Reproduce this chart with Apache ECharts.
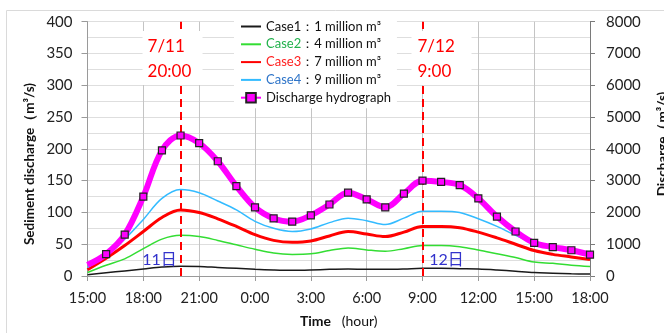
<!DOCTYPE html>
<html>
<head>
<meta charset="utf-8">
<script src="https://cdn.jsdelivr.net/npm/echarts@6/dist/echarts.min.js"></script>
<style>
  html, body { margin: 0; padding: 0; background: #fff; }
  #chart { width: 664px; height: 333px; }
</style>
</head>
<body>
<div id="chart"></div>
<script>
// Hourly time steps, 15:00 on the 11th through 18:00 on the 12th
const hours = ['15:00','16:00','17:00','18:00','19:00','20:00','21:00','22:00','23:00',
  '0:00','1:00','2:00','3:00','4:00','5:00','6:00','7:00','8:00','9:00','10:00','11:00',
  '12:00','13:00','14:00','15:00','16:00','17:00','18:00'];

// Sediment discharge (m3/s) for each landslide-volume case
const case1 = [2, 5, 8, 11, 14, 15.5, 15, 13.5, 12, 10.5, 9.5, 9, 9.5, 10.5, 11, 10.5, 10.5, 11, 12, 12, 11.5, 11, 9.5, 7.5, 5.5, 4.5, 3.5, 3];
const case2 = [5.5, 17, 27, 43, 58, 64, 62, 56, 49, 42, 36, 34, 35, 40, 44, 41, 39, 43, 48, 48, 46, 41, 35, 29, 22, 20, 17, 15];
const case3 = [10, 28, 48, 70, 92, 104, 100, 90, 78, 65, 56, 53, 55, 63, 70, 66, 62, 69, 78, 78, 76, 69, 60, 50, 40, 34, 30, 26];
const case4 = [13, 33, 58, 89, 122, 136, 131, 118, 104, 86, 75, 70, 74, 84, 91, 87, 81, 91, 102, 102, 100, 90, 78, 64, 52, 45, 40, 34];

// Water discharge (m3/s)
const discharge = [350, 690, 1300, 2500, 3950, 4420, 4180, 3610, 2830, 2160, 1810, 1710, 1910, 2250,
  2620, 2410, 2160, 2590, 3000, 2960, 2860, 2440, 1870, 1400, 1040, 910, 810, 670];

const caseNames = ['Case1', 'Case2', 'Case3', 'Case4'];
const caseVolumes = ['1', '4', '7', '9'];
const caseColors = ['#1a1a1a', '#33dd33', '#ff0000', '#33bbff'];
const caseWidths = [1.5, 1.5, 3, 1.5];
const caseTextColors = ['#111111', '#22b14c', '#ff2020', '#2e74c8'];
const hydroName = 'Discharge hydrograph';

// Peak times marked by dashed lines
const peakIndex = [5, 18];
const peakText = ['7/11\n20:00', '7/12\n9:00'];
const dayText = ['11日', '12日'];

const FONT = 'Lato, "Liberation Sans", sans-serif';

const chart = echarts.init(document.getElementById('chart'), null, { renderer: 'canvas' });

const pairs = arr => arr.map((v, i) => [i, v]);
const caseSeries = [case1, case2, case3, case4].map((arr, k) => ({
  name: caseNames[k],
  type: 'line',
  yAxisIndex: 0,
  data: pairs(arr),
  smooth: 0.35,
  showSymbol: false,
  symbol: 'none',
  lineStyle: { color: caseColors[k], width: caseWidths[k] },
  itemStyle: { color: caseColors[k] },
  z: 2 + k
}));

caseSeries[0].markLine = {
  silent: true,
  symbol: 'none',
  label: { show: false },
  lineStyle: { color: '#ff0000', type: [8, 5], width: 2 },
  data: peakIndex.map(i => ({ xAxis: i }))
};

const hydroData = discharge.map((v, i) => i === 0 ? { value: [i, v], symbol: 'none' } : [i, v]);

const richLegend = {};
caseNames.forEach((n, k) => { richLegend['c' + k] = { color: caseTextColors[k], fontSize: 13, fontFamily: FONT }; });
richLegend.t = { color: '#111', fontSize: 13, fontFamily: FONT };

const legendData = caseNames.map(n => ({ name: n, itemStyle: { opacity: 0, borderWidth: 0 } }))
  .concat([{ name: hydroName }]);

chart.setOption({
  animation: false,
  backgroundColor: '#ffffff',
  grid: { left: 87.5, right: 74, top: 21.7, bottom: 53.7, containLabel: false },
  legend: {
    orient: 'vertical',
    left: 234,
    top: 18,
    padding: [2, 6, 4, 6],
    backgroundColor: '#ffffff',
    itemWidth: 20,
    itemHeight: 12,
    itemGap: 4.8,
    data: legendData,
    textStyle: { fontFamily: FONT, fontSize: 13, color: '#111', rich: richLegend },
    formatter: name => {
      const k = caseNames.indexOf(name);
      if (k < 0) return '{t|' + name + '}';
      return '{c' + k + '|' + name + '}{t|：' + caseVolumes[k] + ' million m³}';
    }
  },
  xAxis: {
    type: 'value',
    min: 0,
    max: hours.length - 1,
    interval: 3,
    name: '{b|Time}{n|   (hour)}',
    nameLocation: 'middle',
    nameGap: 38,
    nameTextStyle: {
      rich: {
        b: { fontFamily: FONT, fontSize: 14, fontWeight: 'bold', color: '#111' },
        n: { fontFamily: FONT, fontSize: 14, color: '#111' }
      }
    },
    axisLine: { show: true, onZero: false, lineStyle: { color: '#9a9a9a', width: 1 } },
    axisTick: { show: true, length: 5, lineStyle: { color: '#9a9a9a' } },
    axisLabel: { formatter: v => hours[v], fontFamily: FONT, fontSize: 14.5, color: '#222', margin: 15 },
    splitLine: { show: true, lineStyle: { color: '#c4c4c4', width: 1 } }
  },
  yAxis: [
    {
      type: 'value',
      min: 0, max: 400, interval: 50,
      axisLine: { show: true, lineStyle: { color: '#9a9a9a' } },
      axisTick: { show: true, length: 6, lineStyle: { color: '#9a9a9a' } },
      axisLabel: { fontFamily: FONT, fontSize: 15, color: '#222', margin: 15, formatter: v => String(v) },
      splitLine: { show: true, lineStyle: { color: '#dedede' } },
      minorTick: { show: false, splitNumber: 2 },
      minorSplitLine: { show: true, lineStyle: { color: '#dedede' } }
    },
    {
      type: 'value',
      min: 0, max: 8000, interval: 1000,
      axisLine: { show: true, lineStyle: { color: '#7a7a7a' } },
      axisTick: { show: true, length: 5, lineStyle: { color: '#7a7a7a' } },
      axisLabel: { fontFamily: FONT, fontSize: 15, color: '#222', margin: 16, formatter: v => String(v) },
      splitLine: { show: false }
    }
  ],
  series: caseSeries.concat([{
    name: hydroName,
    type: 'line',
    yAxisIndex: 1,
    data: hydroData,
    smooth: 0.35,
    symbol: 'rect',
    symbolSize: 7,
    showAllSymbol: true,
    lineStyle: { color: '#ff00ff', width: 6 },
    itemStyle: { color: '#ff00ff', borderColor: '#222222', borderWidth: 1.2 },
    z: 10
  }])
});

// Annotation boxes, axis titles and day labels tied to the x scale
const gfx = [{
  type: 'rect', z: 0, silent: true,
  shape: { x: 6.5, y: 10.5, width: 700, height: 340 },
  style: { fill: 'none', stroke: '#dadada', lineWidth: 1 }
}, {
  type: 'text', z: 100, silent: true,
  x: 30, y: 164, rotation: Math.PI / 2,
  style: { text: 'Sediment discharge（m³/s)', font: 'bold 13.5px ' + FONT, fill: '#111', align: 'center', verticalAlign: 'middle' }
}, {
  type: 'text', z: 100, silent: true,
  x: 663, y: 144, rotation: Math.PI / 2,
  style: { text: 'Discharge（m³/s)', font: 'bold 13.5px ' + FONT, fill: '#111', align: 'center', verticalAlign: 'middle' }
}];

peakIndex.forEach((idx, k) => {
  const px = chart.convertToPixel({ xAxisIndex: 0 }, idx);
  const left = k === 0 ? px - 38 : px - 11;
  const textX = k === 0 ? px - 33 : px - 5;
  gfx.push({
    type: 'rect', z: 100, silent: true,
    shape: { x: left, y: 31, width: 60, height: 54 },
    style: { fill: '#ffffff' }
  });
  gfx.push({
    type: 'text', z: 101, silent: true,
    x: textX, y: 34,
    style: { text: peakText[k], font: '17px ' + FONT, fill: '#ff0000', align: 'left', verticalAlign: 'top', lineHeight: 25 }
  });
  gfx.push({
    type: 'text', z: 101, silent: true,
    x: k === 0 ? px - 21 : px + 24, y: 260,
    style: { text: dayText[k], font: '16px ' + FONT + ', "Noto Sans CJK JP"', fill: '#3333cc', align: 'center', verticalAlign: 'middle' }
  });
});

chart.setOption({ graphic: gfx });
</script>
</body>
</html>
